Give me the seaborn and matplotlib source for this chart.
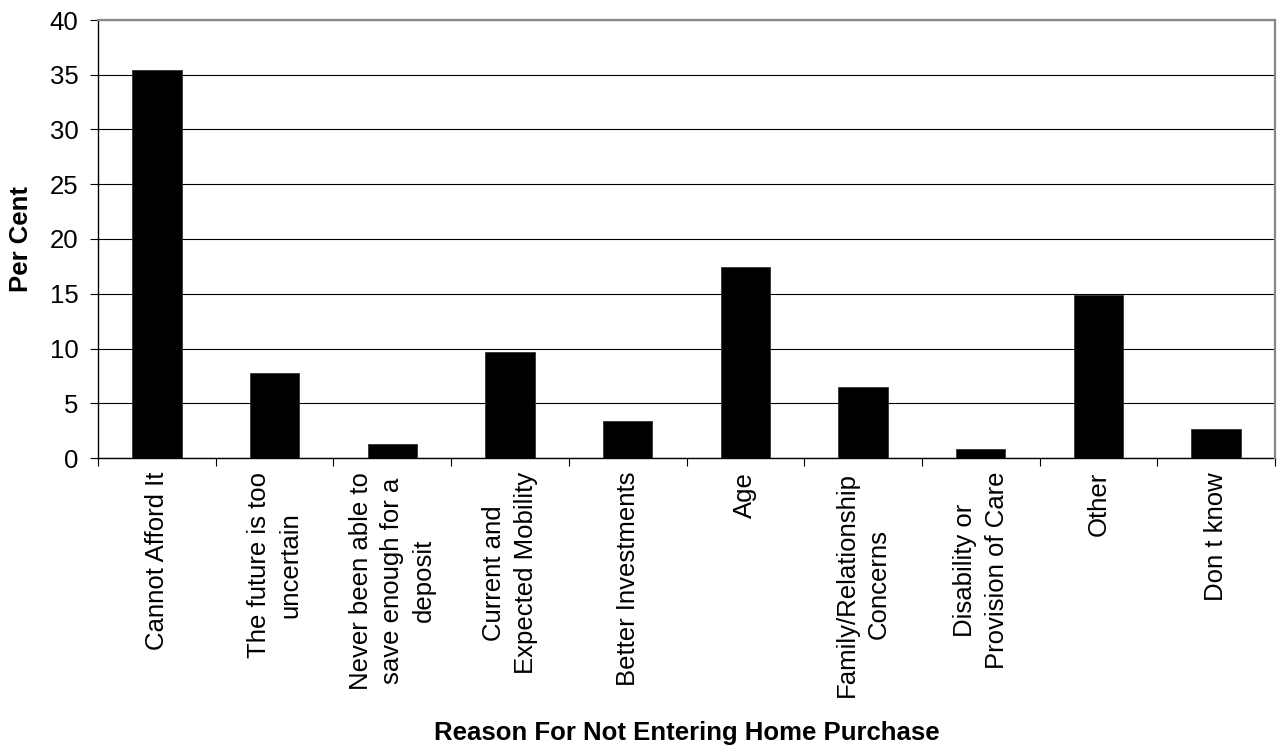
import numpy as np
import pandas as pd
import matplotlib
matplotlib.use("Agg")
import matplotlib.pyplot as plt
from matplotlib.ticker import FixedLocator
import seaborn as sns

# dane
powody = [
    "Cannot Afford It",
    "The future is too\nuncertain",
    "Never been able to\nsave enough for a\ndeposit",
    "Current and\nExpected Mobility",
    "Better Investments",
    "Age",
    "Family/Relationship\nConcerns",
    "Disability or\nProvision of Care",
    "Other",
    "Don t know",
]
procent = [35.45, 7.72, 1.31, 9.7, 3.35, 17.45, 6.48, 0.8, 14.85, 2.63]
y_ticks = [0, 5, 10, 15, 20, 25, 30, 35, 40]

dane = pd.DataFrame({"powod": powody, "procent": procent})

sns.set_theme(style="white")
plt.rcParams["font.family"] = ["Liberation Sans", "DejaVu Sans"]
plt.rcParams.update({"text.color": "black", "axes.labelcolor": "black",
                     "xtick.color": "black", "ytick.color": "black"})

fs = 18.5
fig = plt.figure(figsize=(12.83, 7.49), dpi=100)
ax = fig.add_axes([98 / 1283, 1 - 458 / 749, 1177 / 1283, 438 / 749])

sns.barplot(data=dane, x="powod", y="procent", color="black", width=0.42,
            saturation=1, edgecolor="#333333", linewidth=0.6, ax=ax, zorder=3)

ax.set_xlim(-0.5, len(powody) - 0.5)
ax.set_ylim(0, 40)
ax.set_yticks(y_ticks)
ax.set_yticklabels([str(t) for t in y_ticks], fontsize=fs, color="black")
ax.yaxis.grid(True, color="black", linewidth=0.8)
ax.set_axisbelow(True)

ax.set_xticks(range(len(powody)))
ax.set_xticklabels(powody, rotation=90, fontsize=fs, ha="center", va="top",
                   multialignment="center", linespacing=1.4, color="black")
ax.xaxis.set_minor_locator(FixedLocator(np.arange(-0.5, len(powody), 1.0)))
ax.tick_params(axis="x", which="major", length=0, pad=10)
ax.tick_params(axis="x", which="minor", bottom=True, length=6, width=0.8,
               color="black", direction="out")
ax.tick_params(axis="y", left=True, length=6, width=0.8, color="black",
               direction="out", pad=8)

for s in ["left", "bottom"]:
    ax.spines[s].set_color("black")
    ax.spines[s].set_linewidth(1.0)
for s in ["top", "right"]:
    ax.spines[s].set_color("#888888")
    ax.spines[s].set_linewidth(1.6)
    ax.spines[s].set_zorder(4)

ax.set_ylabel("Per Cent", fontsize=fs, fontweight="bold", va="center",
              color="black")
ax.yaxis.set_label_coords(-0.065, 0.5)
ax.set_xlabel("Reason For Not Entering Home Purchase", fontsize=fs,
              fontweight="bold", va="top", color="black")
ax.xaxis.set_label_coords(0.5, -0.6)

fig.savefig("out.png", dpi=100, facecolor="white")
